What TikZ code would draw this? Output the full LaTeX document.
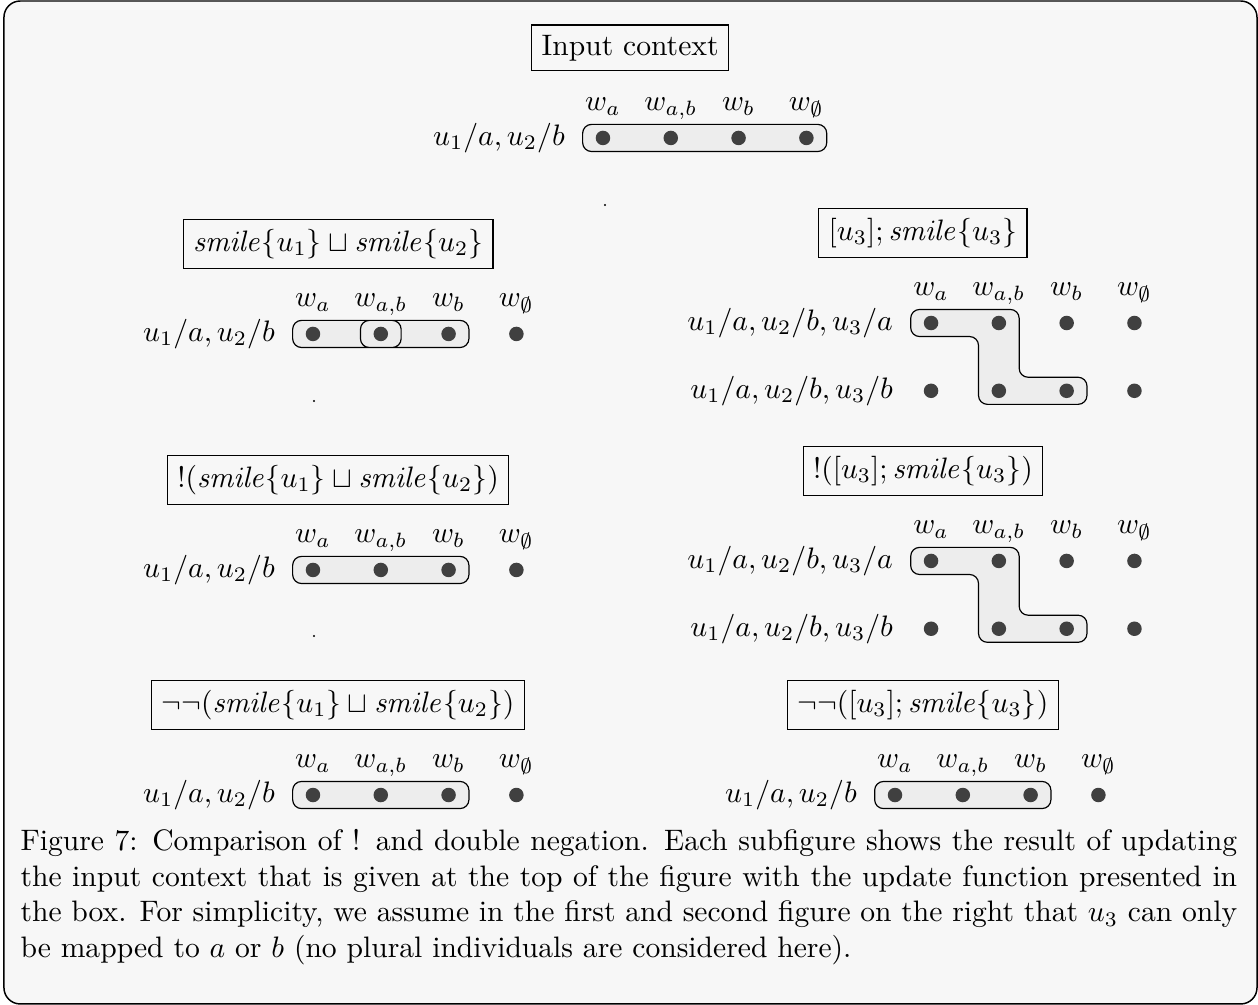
\documentclass[tikz,border=0pt]{standalone}
\usetikzlibrary{positioning}

\begin{document}
\begin{tikzpicture}[
    every node/.style={font=\normalsize},
    formula/.style={draw,inner sep=3.33pt},
    world/.style={circle,fill=black!75,inner sep=0pt,minimum size=4.9pt},
    wlab/.style={anchor=base},
    rowlab/.style={anchor=east},
    blob/.style={draw,fill=black!7,rounded corners=3pt},
    worldgrid/.style={x=0.805cm,y=0.805cm}
  ]
  \useasboundingbox (0,0) rectangle (14.936,11.932);
  \draw[line width=0.5pt,fill=black!3,rounded corners=5.5pt] (0.047,0.012) rectangle (14.924,11.920);

  % input context
  \begin{scope}[shift={(7.159cm,10.294cm)},worldgrid]
    \node[formula] (ctx) at (0.40,1.33) {Input context};
    \foreach \c/\w in {1/a,2/{a,b},3/b,4/\emptyset}
      \node[wlab] (ctx-w\c) at (\c-1,0.4) {$w_{\w}$};
    \node[rowlab] (ctx-r) at (-0.41,0) {$u_1/a, u_2/b$};
    \draw[blob] (-0.3,-0.2) rectangle (3.3,0.2);
    \foreach \c in {1,...,4}
      \node[world] (ctx\c) at (\c-1,0) {};
  \end{scope}
  \fill (7.183,9.498) circle (0.4pt);

  % left column
  \begin{scope}[shift={(3.716cm,7.967cm)},worldgrid]
    \node[formula] (dis) at (0.37,1.33) {$\mathit{smile}\{u_1\} \sqcup \mathit{smile}\{u_2\}$};
    \foreach \c/\w in {1/a,2/{a,b},3/b,4/\emptyset}
      \node[wlab] (dis-w\c) at (\c-1,0.4) {$w_{\w}$};
    \node[rowlab] (dis-r) at (-0.41,0) {$u_1/a, u_2/b$};
    \fill[black!7,rounded corners=3pt] (-0.3,-0.2) rectangle (1.3,0.2) (0.7,-0.2) rectangle (2.3,0.2);
    \draw[rounded corners=3pt] (-0.3,-0.2) rectangle (1.3,0.2) (0.7,-0.2) rectangle (2.3,0.2);
    \foreach \c in {1,...,4}
      \node[world] (dis\c) at (\c-1,0) {};
  \end{scope}
  \fill (3.728,7.171) circle (0.4pt);

  \begin{scope}[shift={(3.716cm,5.165cm)},worldgrid]
    \node[formula] (bang) at (0.37,1.33) {$!(\mathit{smile}\{u_1\} \sqcup \mathit{smile}\{u_2\})$};
    \foreach \c/\w in {1/a,2/{a,b},3/b,4/\emptyset}
      \node[wlab] (bang-w\c) at (\c-1,0.4) {$w_{\w}$};
    \node[rowlab] (bang-r) at (-0.41,0) {$u_1/a, u_2/b$};
    \draw[blob] (-0.3,-0.2) rectangle (2.3,0.2);
    \foreach \c in {1,...,4}
      \node[world] (bang\c) at (\c-1,0) {};
  \end{scope}
  \fill (3.728,4.381) circle (0.4pt);

  \begin{scope}[shift={(3.716cm,2.493cm)},worldgrid]
    \node[formula] (nn) at (0.37,1.33) {$\neg\neg(\mathit{smile}\{u_1\} \sqcup \mathit{smile}\{u_2\})$};
    \foreach \c/\w in {1/a,2/{a,b},3/b,4/\emptyset}
      \node[wlab] (nn-w\c) at (\c-1,0.4) {$w_{\w}$};
    \node[rowlab] (nn-r) at (-0.41,0) {$u_1/a, u_2/b$};
    \draw[blob] (-0.3,-0.2) rectangle (2.3,0.2);
    \foreach \c in {1,...,4}
      \node[world] (nn\c) at (\c-1,0) {};
  \end{scope}

  % right column
  \begin{scope}[shift={(11.054cm,8.097cm)},worldgrid]
    \node[formula] (seq) at (-0.12,1.33) {$[u_3]; \mathit{smile}\{u_3\}$};
    \foreach \c/\w in {1/a,2/{a,b},3/b,4/\emptyset}
      \node[wlab] (seq-w\c) at (\c-1,0.4) {$w_{\w}$};
    \node[rowlab] (seq-ra) at (-0.41,0) {$u_1/a, u_2/b, u_3/a$};
    \node[rowlab] (seq-rb) at (-0.41,-1) {$u_1/a, u_2/b, u_3/b$};
    \draw[blob] (-0.3,0.2) -- (1.3,0.2) -- (1.3,-0.8) -- (2.3,-0.8) -- (2.3,-1.2)
      -- (0.7,-1.2) -- (0.7,-0.2) -- (-0.3,-0.2) -- cycle;
    \foreach \c in {1,...,4} {
      \node[world] (seq-a\c) at (\c-1,0) {};
      \node[world] (seq-b\c) at (\c-1,-1) {};
    }
  \end{scope}

  \begin{scope}[shift={(11.054cm,5.272cm)},worldgrid]
    \node[formula] (bseq) at (-0.12,1.33) {$!([u_3]; \mathit{smile}\{u_3\})$};
    \foreach \c/\w in {1/a,2/{a,b},3/b,4/\emptyset}
      \node[wlab] (bseq-w\c) at (\c-1,0.4) {$w_{\w}$};
    \node[rowlab] (bseq-ra) at (-0.41,0) {$u_1/a, u_2/b, u_3/a$};
    \node[rowlab] (bseq-rb) at (-0.41,-1) {$u_1/a, u_2/b, u_3/b$};
    \draw[blob] (-0.3,0.2) -- (1.3,0.2) -- (1.3,-0.8) -- (2.3,-0.8) -- (2.3,-1.2)
      -- (0.7,-1.2) -- (0.7,-0.2) -- (-0.3,-0.2) -- cycle;
    \foreach \c in {1,...,4} {
      \node[world] (bseq-a\c) at (\c-1,0) {};
      \node[world] (bseq-b\c) at (\c-1,-1) {};
    }
  \end{scope}

  \begin{scope}[shift={(10.626cm,2.493cm)},worldgrid]
    \node[formula] (nseq) at (0.41,1.33) {$\neg\neg([u_3]; \mathit{smile}\{u_3\})$};
    \foreach \c/\w in {1/a,2/{a,b},3/b,4/\emptyset}
      \node[wlab] (nseq-w\c) at (\c-1,0.4) {$w_{\w}$};
    \node[rowlab] (nseq-r) at (-0.41,0) {$u_1/a, u_2/b$};
    \draw[blob] (-0.3,-0.2) rectangle (2.3,0.2);
    \foreach \c in {1,...,4}
      \node[world] (nseq\c) at (\c-1,0) {};
  \end{scope}

  % caption
  \node[anchor=north west,text width=411pt,align=justify,inner sep=0pt] (caption) at (0.237,2.090)
    {Figure 7: Comparison of ! and double negation. Each subfigure shows the result of updating\linebreak
     the input context that is given at the top of the figure with the update function presented in\linebreak
     the box. For simplicity, we assume in the first and second figure on the right that $u_3$ can only\linebreak
     be mapped to $a$ or $b$ (no plural individuals are considered here).};
\end{tikzpicture}
\end{document}
